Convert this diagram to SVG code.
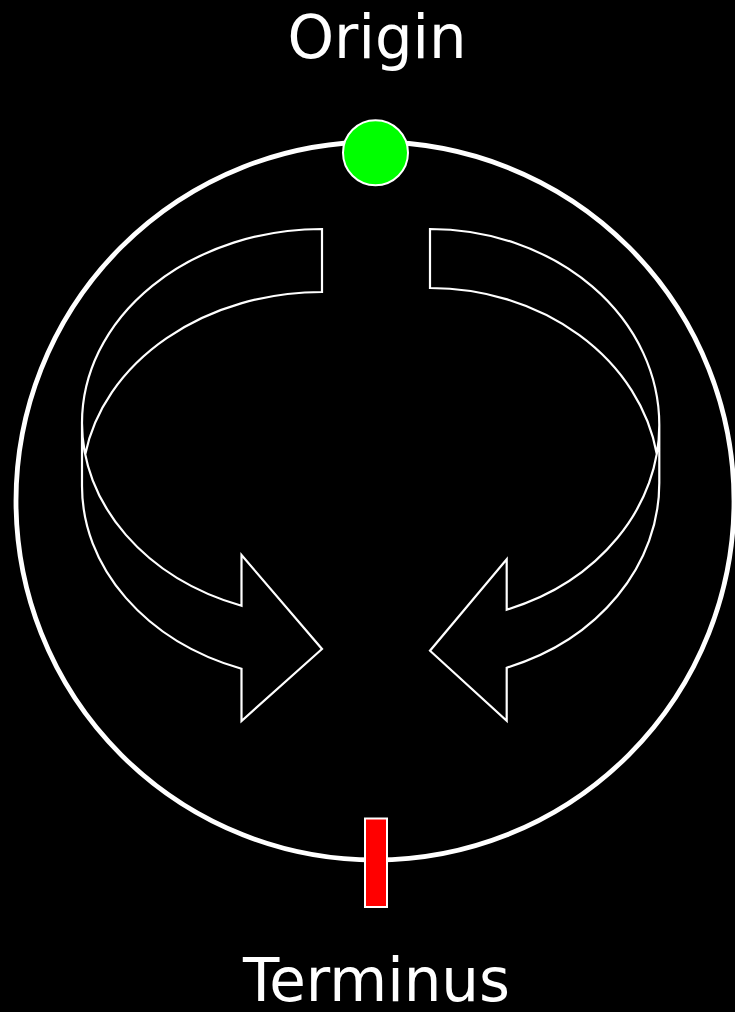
<svg xmlns="http://www.w3.org/2000/svg" width="735" height="1012" viewBox="0 0 735 1012">
  <style>
    .label { font-family: "DejaVu Sans", "Liberation Sans", sans-serif; font-size: 61px; fill: #ffffff; text-anchor: middle; }
    .arrow { fill: #000000; stroke: #ffffff; stroke-width: 2.2; stroke-linejoin: miter; }
  </style>
  <rect x="0" y="0" width="735" height="1012" fill="#000000"/>
  <g id="ring">
    <circle cx="375" cy="501" r="359" fill="none" stroke="#ffffff" stroke-width="4.8"/>
  </g>
  <g id="connectors">
    <path id="arrow-left" class="arrow" d="M 82 423 A 240 194 0 0 0 241.5 605.8 L 241.5 555 L 322 649 L 241.5 721 L 241.5 668.8 A 240 194 0 0 1 82 486 L 82 423 A 240 194 0 0 1 322 229 L 322 292 A 240 194 0 0 0 85.2 454.5"/>
    <path id="arrow-right" class="arrow" d="M 659.3 425 A 229.3 196 0 0 1 506.7 609.7 L 506.7 559.3 L 430 650.7 L 506.7 720.7 L 506.7 667.7 A 229.3 196 0 0 0 659.3 483 L 659.3 425 A 229.3 196 0 0 0 430 229 L 430 288 A 229.3 196 0 0 1 656.8 454"/>
  </g>
  <g id="origin">
    <circle cx="375.5" cy="152.7" r="32.5" fill="#00ff00" stroke="#ffffff" stroke-width="2"/>
    <text class="label" x="377" y="58" textLength="179" lengthAdjust="spacingAndGlyphs">Origin</text>
  </g>
  <g id="terminus">
    <rect x="365" y="818.5" width="22" height="88.5" fill="#ff0000" stroke="#ffffff" stroke-width="2"/>
    <text class="label" x="376.5" y="1001" textLength="267" lengthAdjust="spacingAndGlyphs">Terminus</text>
  </g>
</svg>
